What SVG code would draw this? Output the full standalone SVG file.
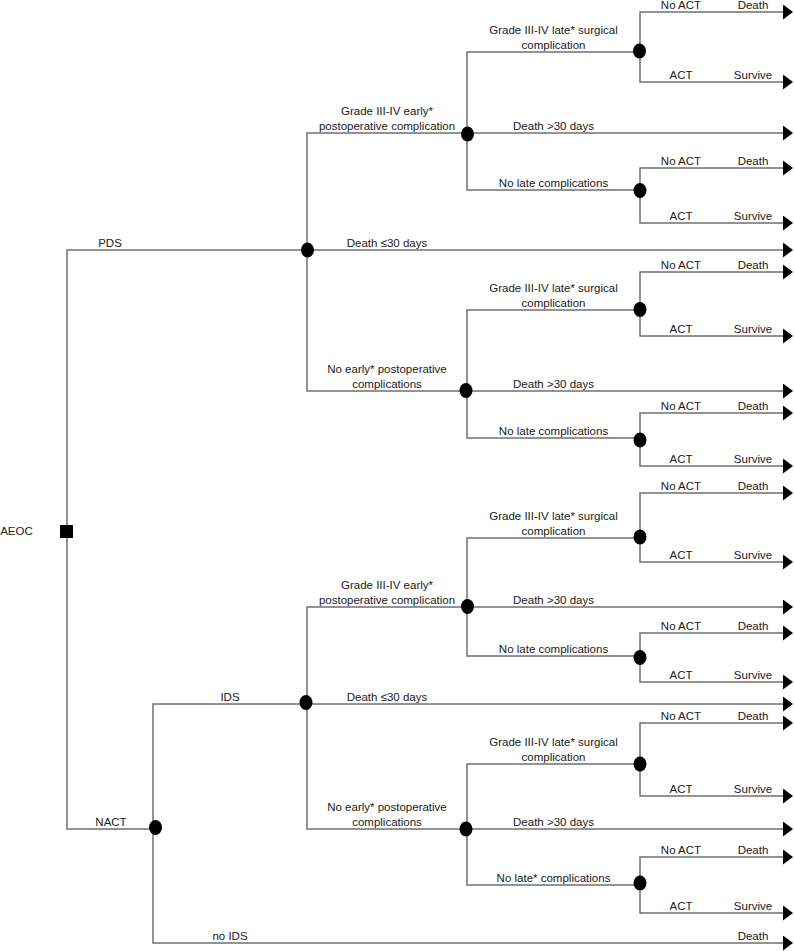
<svg xmlns="http://www.w3.org/2000/svg" width="794" height="951" viewBox="0 0 794 951">
<style>
text{font-family:"Liberation Sans",Arial,sans-serif;font-size:11.5px;fill:#1a1a1a;text-anchor:middle}
.c{fill:none;stroke:#707070;stroke-width:1.5}
.a{marker-end:url(#arr)}
.ch{fill:#000}
</style>
<defs>
<marker id="arr" markerUnits="userSpaceOnUse" markerWidth="10" markerHeight="15" refX="0" refY="7.5" orient="auto" viewBox="0 0 10 15">
<path d="M0,0 L10,7.5 L0,15 z" fill="#000"/>
</marker>
</defs>
<rect width="794" height="951" fill="#fff"/>
<g id="connectors">
<path class="c" d="M67,531 V250 H307"/>
<path class="c" d="M67,531 V829 H153"/>
<path class="c" d="M307,250 V133 H467"/>
<path class="c a" d="M307,250 H783"/>
<path class="c" d="M307,250 V391 H467"/>
<path class="c" d="M467,133 V52 H640"/>
<path class="c a" d="M467,133 H783"/>
<path class="c" d="M467,133 V190 H640"/>
<path class="c a" d="M640,52 V12 H783"/>
<path class="c a" d="M640,52 V82 H783"/>
<path class="c a" d="M640,190 V168 H783"/>
<path class="c a" d="M640,190 V223 H783"/>
<path class="c" d="M467,391 V310 H640"/>
<path class="c a" d="M467,391 H783"/>
<path class="c" d="M467,391 V438 H640"/>
<path class="c a" d="M640,310 V272 H783"/>
<path class="c a" d="M640,310 V336 H783"/>
<path class="c a" d="M640,438 V413 H783"/>
<path class="c a" d="M640,438 V466 H783"/>
<path class="c" d="M153,829 V704 H307"/>
<path class="c a" d="M153,829 V943 H783"/>
<path class="c" d="M307,704 V607 H467"/>
<path class="c a" d="M307,704 H783"/>
<path class="c" d="M307,704 V829 H467"/>
<path class="c" d="M467,607 V538 H640"/>
<path class="c a" d="M467,607 H783"/>
<path class="c" d="M467,607 V656 H640"/>
<path class="c a" d="M640,538 V493 H783"/>
<path class="c a" d="M640,538 V562 H783"/>
<path class="c a" d="M640,656 V633 H783"/>
<path class="c a" d="M640,656 V682 H783"/>
<path class="c" d="M467,829 V764 H640"/>
<path class="c a" d="M467,829 H783"/>
<path class="c" d="M467,829 V885 H640"/>
<path class="c a" d="M640,764 V723 H783"/>
<path class="c a" d="M640,764 V796 H783"/>
<path class="c a" d="M640,885 V857 H783"/>
<path class="c a" d="M640,885 V913 H783"/>
</g>
<g id="labels">
<text x="110" y="246.5">PDS</text>
<text x="111" y="825.5">NACT</text>
<text x="230" y="700.5">IDS</text>
<text x="230" y="939.5">no IDS</text>
<text x="753" y="939.5">Death</text>
<text x="387" y="114.5">Grade III-IV early*</text>
<text x="387" y="129.5">postoperative complication</text>
<text x="387" y="246.5">Death ≤30 days</text>
<text x="387" y="372.5">No early* postoperative</text>
<text x="387" y="387.5">complications</text>
<text x="387" y="588.5">Grade III-IV early*</text>
<text x="387" y="603.5">postoperative complication</text>
<text x="387" y="700.5">Death ≤30 days</text>
<text x="387" y="810.5">No early* postoperative</text>
<text x="387" y="825.5">complications</text>
<text x="553.5" y="33.5">Grade III-IV late* surgical</text>
<text x="553.5" y="48.5">complication</text>
<text x="553.5" y="129.5">Death &gt;30 days</text>
<text x="553.5" y="186.5">No late complications</text>
<text x="553.5" y="291.5">Grade III-IV late* surgical</text>
<text x="553.5" y="306.5">complication</text>
<text x="553.5" y="387.5">Death &gt;30 days</text>
<text x="553.5" y="434.5">No late complications</text>
<text x="553.5" y="519.5">Grade III-IV late* surgical</text>
<text x="553.5" y="534.5">complication</text>
<text x="553.5" y="603.5">Death &gt;30 days</text>
<text x="553.5" y="652.5">No late complications</text>
<text x="553.5" y="745.5">Grade III-IV late* surgical</text>
<text x="553.5" y="760.5">complication</text>
<text x="553.5" y="825.5">Death &gt;30 days</text>
<text x="553.5" y="881.5">No late* complications</text>
<text x="681" y="8.5">No ACT</text><text x="753" y="8.5">Death</text>
<text x="681" y="78.5">ACT</text><text x="753" y="78.5">Survive</text>
<text x="681" y="164.5">No ACT</text><text x="753" y="164.5">Death</text>
<text x="681" y="219.5">ACT</text><text x="753" y="219.5">Survive</text>
<text x="681" y="268.5">No ACT</text><text x="753" y="268.5">Death</text>
<text x="681" y="332.5">ACT</text><text x="753" y="332.5">Survive</text>
<text x="681" y="409.5">No ACT</text><text x="753" y="409.5">Death</text>
<text x="681" y="462.5">ACT</text><text x="753" y="462.5">Survive</text>
<text x="681" y="489.5">No ACT</text><text x="753" y="489.5">Death</text>
<text x="681" y="558.5">ACT</text><text x="753" y="558.5">Survive</text>
<text x="681" y="629.5">No ACT</text><text x="753" y="629.5">Death</text>
<text x="681" y="678.5">ACT</text><text x="753" y="678.5">Survive</text>
<text x="681" y="719.5">No ACT</text><text x="753" y="719.5">Death</text>
<text x="681" y="792.5">ACT</text><text x="753" y="792.5">Survive</text>
<text x="681" y="853.5">No ACT</text><text x="753" y="853.5">Death</text>
<text x="681" y="909.5">ACT</text><text x="753" y="909.5">Survive</text>
</g>
<g id="n_root"><rect x="60" y="525" width="13" height="13" fill="#000"/><text x="16.5" y="535">AEOC</text></g>
<g id="n_pds"><ellipse class="ch" cx="307.5" cy="250" rx="6.5" ry="7.5"/></g>
<g id="n_pds_early"><ellipse class="ch" cx="467.5" cy="134" rx="6.5" ry="7.5"/></g>
<g id="n_pds_early_late"><ellipse class="ch" cx="639.5" cy="51" rx="6.5" ry="7.5"/></g>
<g id="n_pds_early_nolate"><ellipse class="ch" cx="640" cy="190.5" rx="6.5" ry="7.5"/></g>
<g id="n_pds_noearly"><ellipse class="ch" cx="466" cy="390.5" rx="6.5" ry="7.5"/></g>
<g id="n_pds_noearly_late"><ellipse class="ch" cx="640" cy="309.5" rx="6.5" ry="7.5"/></g>
<g id="n_pds_noearly_nolate"><ellipse class="ch" cx="640" cy="440" rx="6.5" ry="7.5"/></g>
<g id="n_nact"><ellipse class="ch" cx="155.5" cy="827.5" rx="6.5" ry="7.5"/></g>
<g id="n_ids"><ellipse class="ch" cx="306" cy="702.5" rx="6.5" ry="7.5"/></g>
<g id="n_ids_early"><ellipse class="ch" cx="467.5" cy="606.5" rx="6.5" ry="7.5"/></g>
<g id="n_ids_early_late"><ellipse class="ch" cx="640" cy="537" rx="6.5" ry="7.5"/></g>
<g id="n_ids_early_nolate"><ellipse class="ch" cx="640" cy="657.5" rx="6.5" ry="7.5"/></g>
<g id="n_ids_noearly"><ellipse class="ch" cx="466" cy="829" rx="6.5" ry="7.5"/></g>
<g id="n_ids_noearly_late"><ellipse class="ch" cx="640" cy="764" rx="6.5" ry="7.5"/></g>
<g id="n_ids_noearly_nolate"><ellipse class="ch" cx="640" cy="883" rx="6.5" ry="7.5"/></g>
</svg>
